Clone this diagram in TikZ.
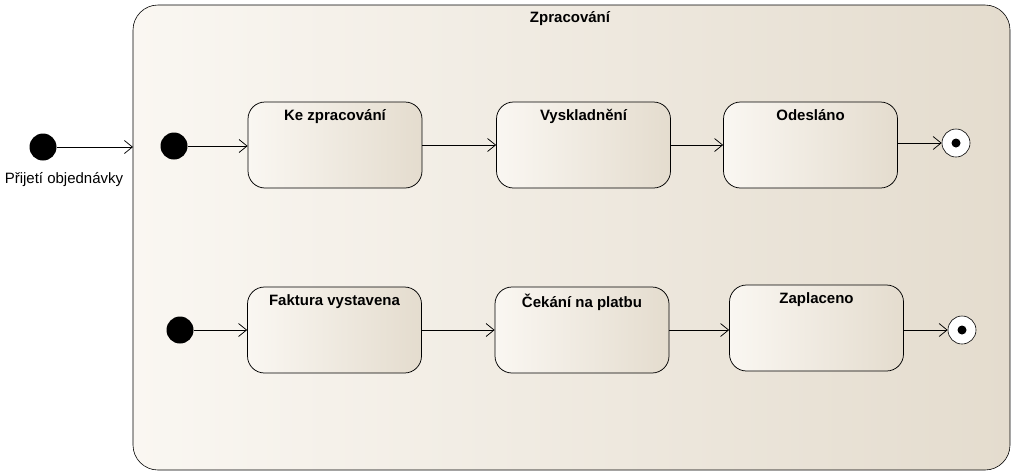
\documentclass[tikz,border=0pt]{standalone}
\usepackage{fontspec}
\setmainfont{Liberation Sans}
\usetikzlibrary{arrows.meta}
\definecolor{stateL}{RGB}{250,247,242}
\definecolor{stateR}{RGB}{228,220,206}
\tikzset{every picture/.style={line width=0.75pt}}
\tikzset{
  statebox/.style={draw, rounded corners=17pt, minimum width=174pt, minimum height=86pt, left color=stateL, right color=stateR, inner sep=0pt},
  statename/.style={font=\fontsize{15}{17}\selectfont\bfseries, anchor=north},
  startdot/.style={circle, fill=black, minimum size=27pt, inner sep=0pt},
  enddot/.style={circle, draw, fill=white, minimum size=28pt, inner sep=0pt, line width=0.6pt},
  trans/.style={-{Straight Barb[length=8pt,width=13pt,line width=0.75pt]}, line width=0.6pt}
}
\begin{document}
\begin{tikzpicture}[x=1pt,y=1pt,yscale=-1,xscale=1]
        \useasboundingbox (0,0) rectangle (1011,475);

        % Composite state
        \draw [rounded corners=25pt, left color=stateL, right color=stateR, line width=0.6pt] (133,5) rectangle (1010,470);
        \node (title) [statename] at (570,8) {Zpracování};

        % Outer start
        \node (outerstart) [startdot] at (43,147) {};
        \node (outerlbl) [font=\fontsize{15}{17}\selectfont] at (64,180) {Přijetí objednávky};
        \coordinate (border) at (133,147);
        \draw [trans] (outerstart) -- (border);

        % Upper region
        \node (startA) [startdot] at (174,146) {};
        \node (prep) [statebox] at (335,145) {};
        \node [statename] at (prep.north) [yshift=-4pt] {Ke zpracování};
        \node (stock) [statebox] at (583.5,145) {};
        \node [statename] at (stock.north) [yshift=-4pt] {Vyskladnění};
        \node (sent) [statebox] at (810.5,145) {};
        \node [statename] at (sent.north) [yshift=-4pt] {Odesláno};
        \node (endA) [enddot] at (956,143) {};
        \fill (endA) circle (4.5pt);

        \draw [trans] (startA) -- (prep.west |- startA);
        \draw [trans] (prep) -- (stock);
        \draw [trans] (stock) -- (sent);
        \draw [trans] (sent.east |- endA) -- (endA);

        % Lower region
        \node (startB) [startdot] at (180,330) {};
        \node (invoice) [statebox] at (334.5,330) {};
        \node [statename] at (invoice.north) [yshift=-4pt] {Faktura vystavena};
        \node (waiting) [statebox] at (582,330) {};
        \node [statename] at (waiting.north) [yshift=-4pt] {Čekání na platbu};
        \node (paid) [statebox] at (816.5,328) {};
        \node [statename] at (paid.north) [yshift=-4pt] {Zaplaceno};
        \node (endB) [enddot] at (962,330) {};
        \fill (endB) circle (4.5pt);

        \draw [trans] (startB) -- (invoice.west |- startB);
        \draw [trans] (invoice) -- (waiting);
        \draw [trans] (waiting.east) -- (paid.west |- waiting.east);
        \draw [trans] (paid.east |- endB) -- (endB);
\end{tikzpicture}
\end{document}
